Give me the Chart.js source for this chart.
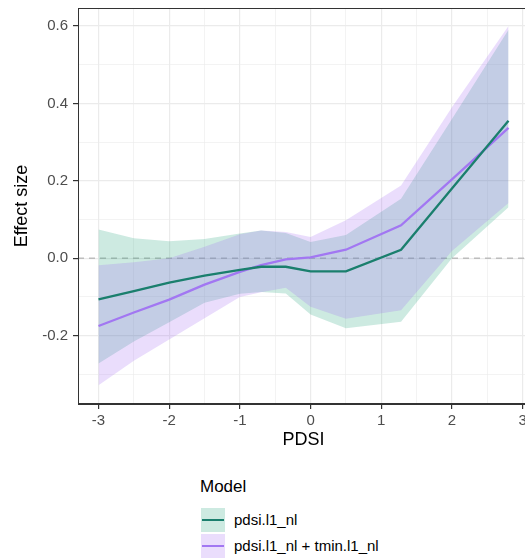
<!DOCTYPE html>
<html><head><meta charset="utf-8">
<script src="https://cdn.jsdelivr.net/npm/chart.js@4"></script>
<style>
html,body{margin:0;padding:0;background:#fff;overflow:hidden;width:525px;height:559px;}
#wrap{position:relative;width:525px;height:559px;overflow:hidden;}
canvas{position:absolute;left:0;top:0;}
.lg{position:absolute;font-family:"Liberation Sans",Arial,sans-serif;color:#000;white-space:nowrap;}
.key{position:absolute;width:24px;height:24px;}
.key i{position:absolute;left:1px;right:1px;top:11px;height:2px;display:block;}
</style></head>
<body>
<div id="wrap">
<canvas id="c" width="535" height="460" style="width:535px;height:460px"></canvas>
<div id="legend"></div>
</div>
<script>
// ---- data ----
const xVals = [-3, -2.5, -2, -1.5, -1, -0.7, -0.35, 0, 0.5, 1.28, 2, 2.8];
const seriesNames = ['pdsi.l1_nl', 'pdsi.l1_nl + tmin.l1_nl'];
const fitA   = [-0.106, -0.085, -0.063, -0.045, -0.030, -0.022, -0.022, -0.034, -0.034, 0.022, 0.180, 0.355];
const lowerA = [-0.272, -0.215, -0.165, -0.115, -0.092, -0.087, -0.091, -0.145, -0.181, -0.164, 0.000, 0.132];
const upperA = [0.074, 0.052, 0.044, 0.050, 0.064, 0.072, 0.065, 0.042, 0.060, 0.154, 0.360, 0.590];
const fitB   = [-0.175, -0.140, -0.107, -0.068, -0.035, -0.018, -0.003, 0.002, 0.022, 0.085, 0.204, 0.337];
const lowerB = [-0.328, -0.265, -0.210, -0.155, -0.100, -0.088, -0.076, -0.125, -0.156, -0.134, 0.019, 0.143];
const upperB = [-0.018, -0.010, 0.000, 0.030, 0.062, 0.072, 0.068, 0.055, 0.098, 0.188, 0.390, 0.600];
const xTickValues = [-3, -2, -1, 0, 1, 2, 3];
const xTickLabels = ['-3', '-2', '-1', '0', '1', '2', '3'];
const xMinorValues = [-2.5, -1.5, -0.5, 0.5, 1.5, 2.5];
const yTickValues = [-0.2, 0, 0.2, 0.4, 0.6];
const yTickLabels = ['-0.2', '0.0', '0.2', '0.4', '0.6'];
const yMinorValues = [-0.3, -0.1, 0.1, 0.3, 0.5];
const xTitle = 'PDSI';
const yTitle = 'Effect size';
const legendTitle = 'Model';
const xRange = [-3.29, 3.09];
const yRange = [-0.3765, 0.6465];

// ---- styles ----
const lineColA = '#1a7f6d', lineColB = '#a277f2';
const fillA = 'rgba(27,158,119,0.22)', fillB = 'rgba(160,100,240,0.22)';
const FONT = '"Liberation Sans", Arial, sans-serif';

const pts = arr => xVals.map((x, i) => ({x: x, y: arr[i]}));
const isMajor = (v, list) => list.some(m => Math.abs(m - v) < 1e-9);

const frame = {
  id: 'frame',
  beforeDatasetsDraw(chart) {
    const {ctx, chartArea: a, scales: {y}} = chart;
    const py = y.getPixelForValue(0);
    ctx.save();
    ctx.strokeStyle = '#bdbdbd';
    ctx.lineWidth = 1.3;
    ctx.setLineDash([6, 5]);
    ctx.beginPath(); ctx.moveTo(a.left, py); ctx.lineTo(a.right, py); ctx.stroke();
    ctx.restore();
  },
  afterDraw(chart) {
    const {ctx, chartArea: a} = chart;
    ctx.save();
    ctx.strokeStyle = '#333333';
    ctx.lineWidth = 1;
    ctx.strokeRect(a.left + 0.5, a.top + 0.5, a.right - a.left - 1, a.bottom - a.top - 1);
    ctx.restore();
  }
};

new Chart(document.getElementById('c'), {
  type: 'line',
  data: {
    datasets: [
      {label: seriesNames[0], data: pts(fitA), borderColor: lineColA, borderWidth: 2.3, pointRadius: 0, fill: false, tension: 0},
      {label: seriesNames[1], data: pts(fitB), borderColor: lineColB, borderWidth: 2.3, pointRadius: 0, fill: false, tension: 0},
      {label: 'upperB', data: pts(upperB), borderWidth: 0, borderColor: 'rgba(0,0,0,0)', pointRadius: 0, backgroundColor: fillB, fill: 3, tension: 0},
      {label: 'lowerB', data: pts(lowerB), borderWidth: 0, borderColor: 'rgba(0,0,0,0)', pointRadius: 0, fill: false, tension: 0},
      {label: 'upperA', data: pts(upperA), borderWidth: 0, borderColor: 'rgba(0,0,0,0)', pointRadius: 0, backgroundColor: fillA, fill: 5, tension: 0},
      {label: 'lowerA', data: pts(lowerA), borderWidth: 0, borderColor: 'rgba(0,0,0,0)', pointRadius: 0, fill: false, tension: 0}
    ]
  },
  options: {
    responsive: false,
    animation: false,
    devicePixelRatio: 1,
    layout: {padding: {left: 0, top: 8, right: 6, bottom: 0}},
    plugins: {legend: {display: false}, tooltip: {enabled: false}},
    scales: {
      x: {
        type: 'linear', min: xRange[0], max: xRange[1],
        afterBuildTicks: s => { s.ticks = xTickValues.concat(xMinorValues).sort((a, b) => a - b).map(v => ({value: v})); },
        afterFit: s => { s.height = 56; s.paddingLeft = 0; s.paddingRight = 0; },
        ticks: {
          autoSkip: false, maxRotation: 0, padding: 3, color: '#4d4d4d',
          font: {family: FONT, size: 15},
          callback: v => { const i = xTickValues.findIndex(m => Math.abs(m - v) < 1e-9); return i >= 0 ? xTickLabels[i] : ''; }
        },
        grid: {
          color: '#ebebeb',
          lineWidth: c => isMajor(c.tick.value, xTickValues) ? 1.2 : 0.6,
          tickColor: c => isMajor(c.tick.value, xTickValues) ? '#333333' : 'rgba(0,0,0,0)',
          tickLength: 5, drawTicks: true
        },
        border: {display: true, color: '#333333', width: 1},
        title: {display: true, text: xTitle, color: '#000', font: {family: FONT, size: 18}, padding: {top: 0, bottom: 9}}
      },
      y: {
        type: 'linear', min: yRange[0], max: yRange[1],
        afterBuildTicks: s => { s.ticks = yTickValues.concat(yMinorValues).sort((a, b) => a - b).map(v => ({value: v})); },
        afterFit: s => { s.width = 78; s.paddingTop = 0; s.paddingBottom = 0; },
        ticks: {
          autoSkip: false, padding: 5, color: '#4d4d4d',
          font: {family: FONT, size: 15},
          callback: v => { const i = yTickValues.findIndex(m => Math.abs(m - v) < 1e-9); return i >= 0 ? yTickLabels[i] : ''; }
        },
        grid: {
          color: '#ebebeb',
          lineWidth: c => isMajor(c.tick.value, yTickValues) ? 1.2 : 0.6,
          tickColor: c => isMajor(c.tick.value, yTickValues) ? '#333333' : 'rgba(0,0,0,0)',
          tickLength: 5, drawTicks: true
        },
        border: {display: true, color: '#333333', width: 1},
        title: {display: true, text: yTitle, color: '#000', font: {family: FONT, size: 18}, padding: {top: 11, bottom: 0}}
      }
    }
  },
  plugins: [frame]
});

// ---- legend (HTML text) ----
const lg = document.getElementById('legend');
const keyFills = ['rgb(205,234,225)', 'rgb(234,221,252)'];
const keyLines = [lineColA, lineColB];
let html = '<div class="lg" style="left:200px;top:477px;font-size:17px;">' + legendTitle + '</div>';
seriesNames.forEach((n, i) => {
  const top = 508 + i * 26;
  html += '<div class="key" style="left:201px;top:' + top + 'px;background:' + keyFills[i] + '"><i style="background:' + keyLines[i] + '"></i></div>';
  html += '<div class="lg" style="left:234px;top:' + (top + 3) + 'px;font-size:15px;line-height:18px;">' + n + '</div>';
});
lg.innerHTML = html;
</script>
</body></html>
